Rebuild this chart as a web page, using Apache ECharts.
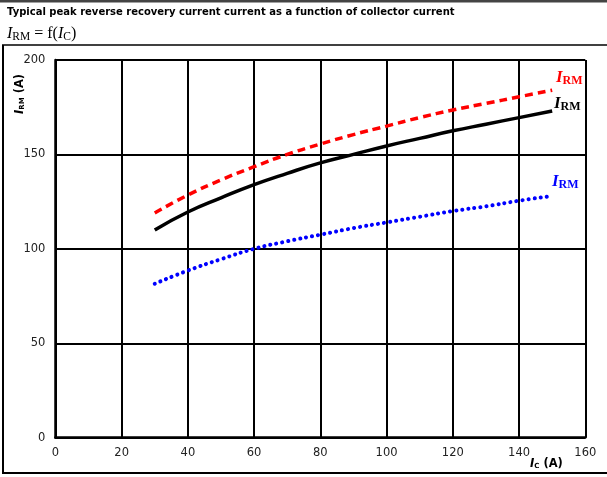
<!DOCTYPE html>
<html><head><meta charset="utf-8">
<script src="https://cdn.jsdelivr.net/npm/echarts@6/dist/echarts.min.js"></script>
<style>html,body{margin:0;padding:0;background:#fff}#c{width:607px;height:477px}</style>
</head><body><div id="c"></div>
<script>
const icValues = [30, 40, 50, 60, 70, 80, 90, 100, 110, 120, 130, 140, 150];
const irmRed   = [119, 128.5, 136.5, 143.5, 150, 155.5, 160.5, 165, 169.5, 173.5, 177, 180.5, 184];
const irmBlack = [110, 119.5, 127, 134, 140, 145.5, 150, 154.5, 158.5, 162.5, 166, 169.5, 173];
const irmBlue  = [81.5, 88.5, 94.5, 100, 104, 107.5, 111, 114, 117, 120, 122.5, 125.5, 128];
const xTicks = [0, 20, 40, 60, 80, 100, 120, 140, 160];
const yTicks = [0, 50, 100, 150, 200];

function pairs(ys){ return icValues.map((x,i)=>[x, ys[i]]); }
const chart = echarts.init(document.getElementById('c'), null, {renderer:'canvas'});
const lblRich = (c)=>({
  i:{fontFamily:'Liberation Serif', fontStyle:'italic', fontWeight:'bold', fontSize:17, fill:c},
  s:{fontFamily:'Liberation Serif', fontWeight:'bold', fontSize:12, fill:c, padding:[6,0,0,0]}
});
chart.setOption({
  animation:false,
  grid:{left:55.4, right:21.7, top:60, bottom:39.3, containLabel:false},
  xAxis:{type:'value', min:xTicks[0], max:xTicks[xTicks.length-1], interval:20,
    axisLine:{show:true, onZero:false, lineStyle:{color:'#000', width:2.5}},
    axisTick:{show:false},
    axisLabel:{color:'#222', fontFamily:'DejaVu Sans', fontSize:11.5, margin:9},
    splitLine:{show:true, lineStyle:{color:'#000', width:2}}},
  yAxis:{type:'value', min:yTicks[0], max:yTicks[yTicks.length-1], interval:50,
    axisLine:{show:true, onZero:false, lineStyle:{color:'#000', width:2.5}},
    axisTick:{show:false},
    axisLabel:{color:'#222', fontFamily:'DejaVu Sans', fontSize:11.5, margin:10},
    splitLine:{show:true, lineStyle:{color:'#000', width:2}}},
  series:[
    {type:'line', data:pairs(irmRed), smooth:true, showSymbol:false,
     lineStyle:{color:'#ff0000', width:3.5, type:[8,5]}},
    {type:'line', data:pairs(irmBlack), smooth:true, showSymbol:false,
     lineStyle:{color:'#000', width:3.5}},
    {type:'line', data:pairs(irmBlue), smooth:true, showSymbol:false,
     lineStyle:{color:'#0000ff', width:4, type:[0.1,6], cap:'round'}}
  ],
  graphic:[
    {type:'rect', shape:{x:0,y:0,width:607,height:2.5}, style:{fill:'#444'}},
    {type:'text', left:7, top:7, style:{text:'Typical peak reverse recovery current current as a function of collector current', font:'bold 10px "DejaVu Sans"', fill:'#000'}},
    {type:'text', left:7, top:26, style:{text:'{i|I}{s|RM}{n| = f(}{i|I}{s|C}{n|)}', rich:{
      i:{fontFamily:'Liberation Serif', fontStyle:'italic', fontSize:16, fill:'#000'},
      s:{fontFamily:'Liberation Serif', fontSize:11.5, fill:'#000', padding:[5,0,0,0]},
      n:{fontFamily:'Liberation Serif', fontSize:16, fill:'#000'}}}},
    {type:'line', shape:{x1:2,y1:45,x2:607,y2:45}, style:{stroke:'#000', lineWidth:1.5}},
    {type:'line', shape:{x1:3,y1:45,x2:3,y2:473}, style:{stroke:'#000', lineWidth:2}},
    {type:'line', shape:{x1:2,y1:473,x2:607,y2:473}, style:{stroke:'#000', lineWidth:2}},
    {type:'text', x:14, y:114, rotation:Math.PI/2, style:{text:'{i|I}{s|RM}{n| (A)}', rich:{
      i:{fontFamily:'DejaVu Sans', fontStyle:'italic', fontWeight:'bold', fontSize:11.5, fill:'#000'},
      s:{fontFamily:'DejaVu Sans', fontWeight:'bold', fontSize:7, fill:'#000', padding:[4,0,0,0]},
      n:{fontFamily:'DejaVu Sans', fontWeight:'bold', fontSize:11.5, fill:'#000'}}}},
    {type:'text', left:530, top:458, style:{text:'{i|I}{s|C}{n| (A)}', rich:{
      i:{fontFamily:'DejaVu Sans', fontStyle:'italic', fontWeight:'bold', fontSize:11.5, fill:'#000'},
      s:{fontFamily:'DejaVu Sans', fontWeight:'bold', fontSize:7, fill:'#000', padding:[4,0,0,0]},
      n:{fontFamily:'DejaVu Sans', fontWeight:'bold', fontSize:11.5, fill:'#000'}}}},
    {type:'text', left:556, top:69, style:{text:'{i|I}{s|RM}', rich:lblRich('#ff0000')}},
    {type:'text', left:554, top:95, style:{text:'{i|I}{s|RM}', rich:lblRich('#000000')}},
    {type:'text', left:552, top:173, style:{text:'{i|I}{s|RM}', rich:lblRich('#0000ff')}}
  ]
});
</script></body></html>
